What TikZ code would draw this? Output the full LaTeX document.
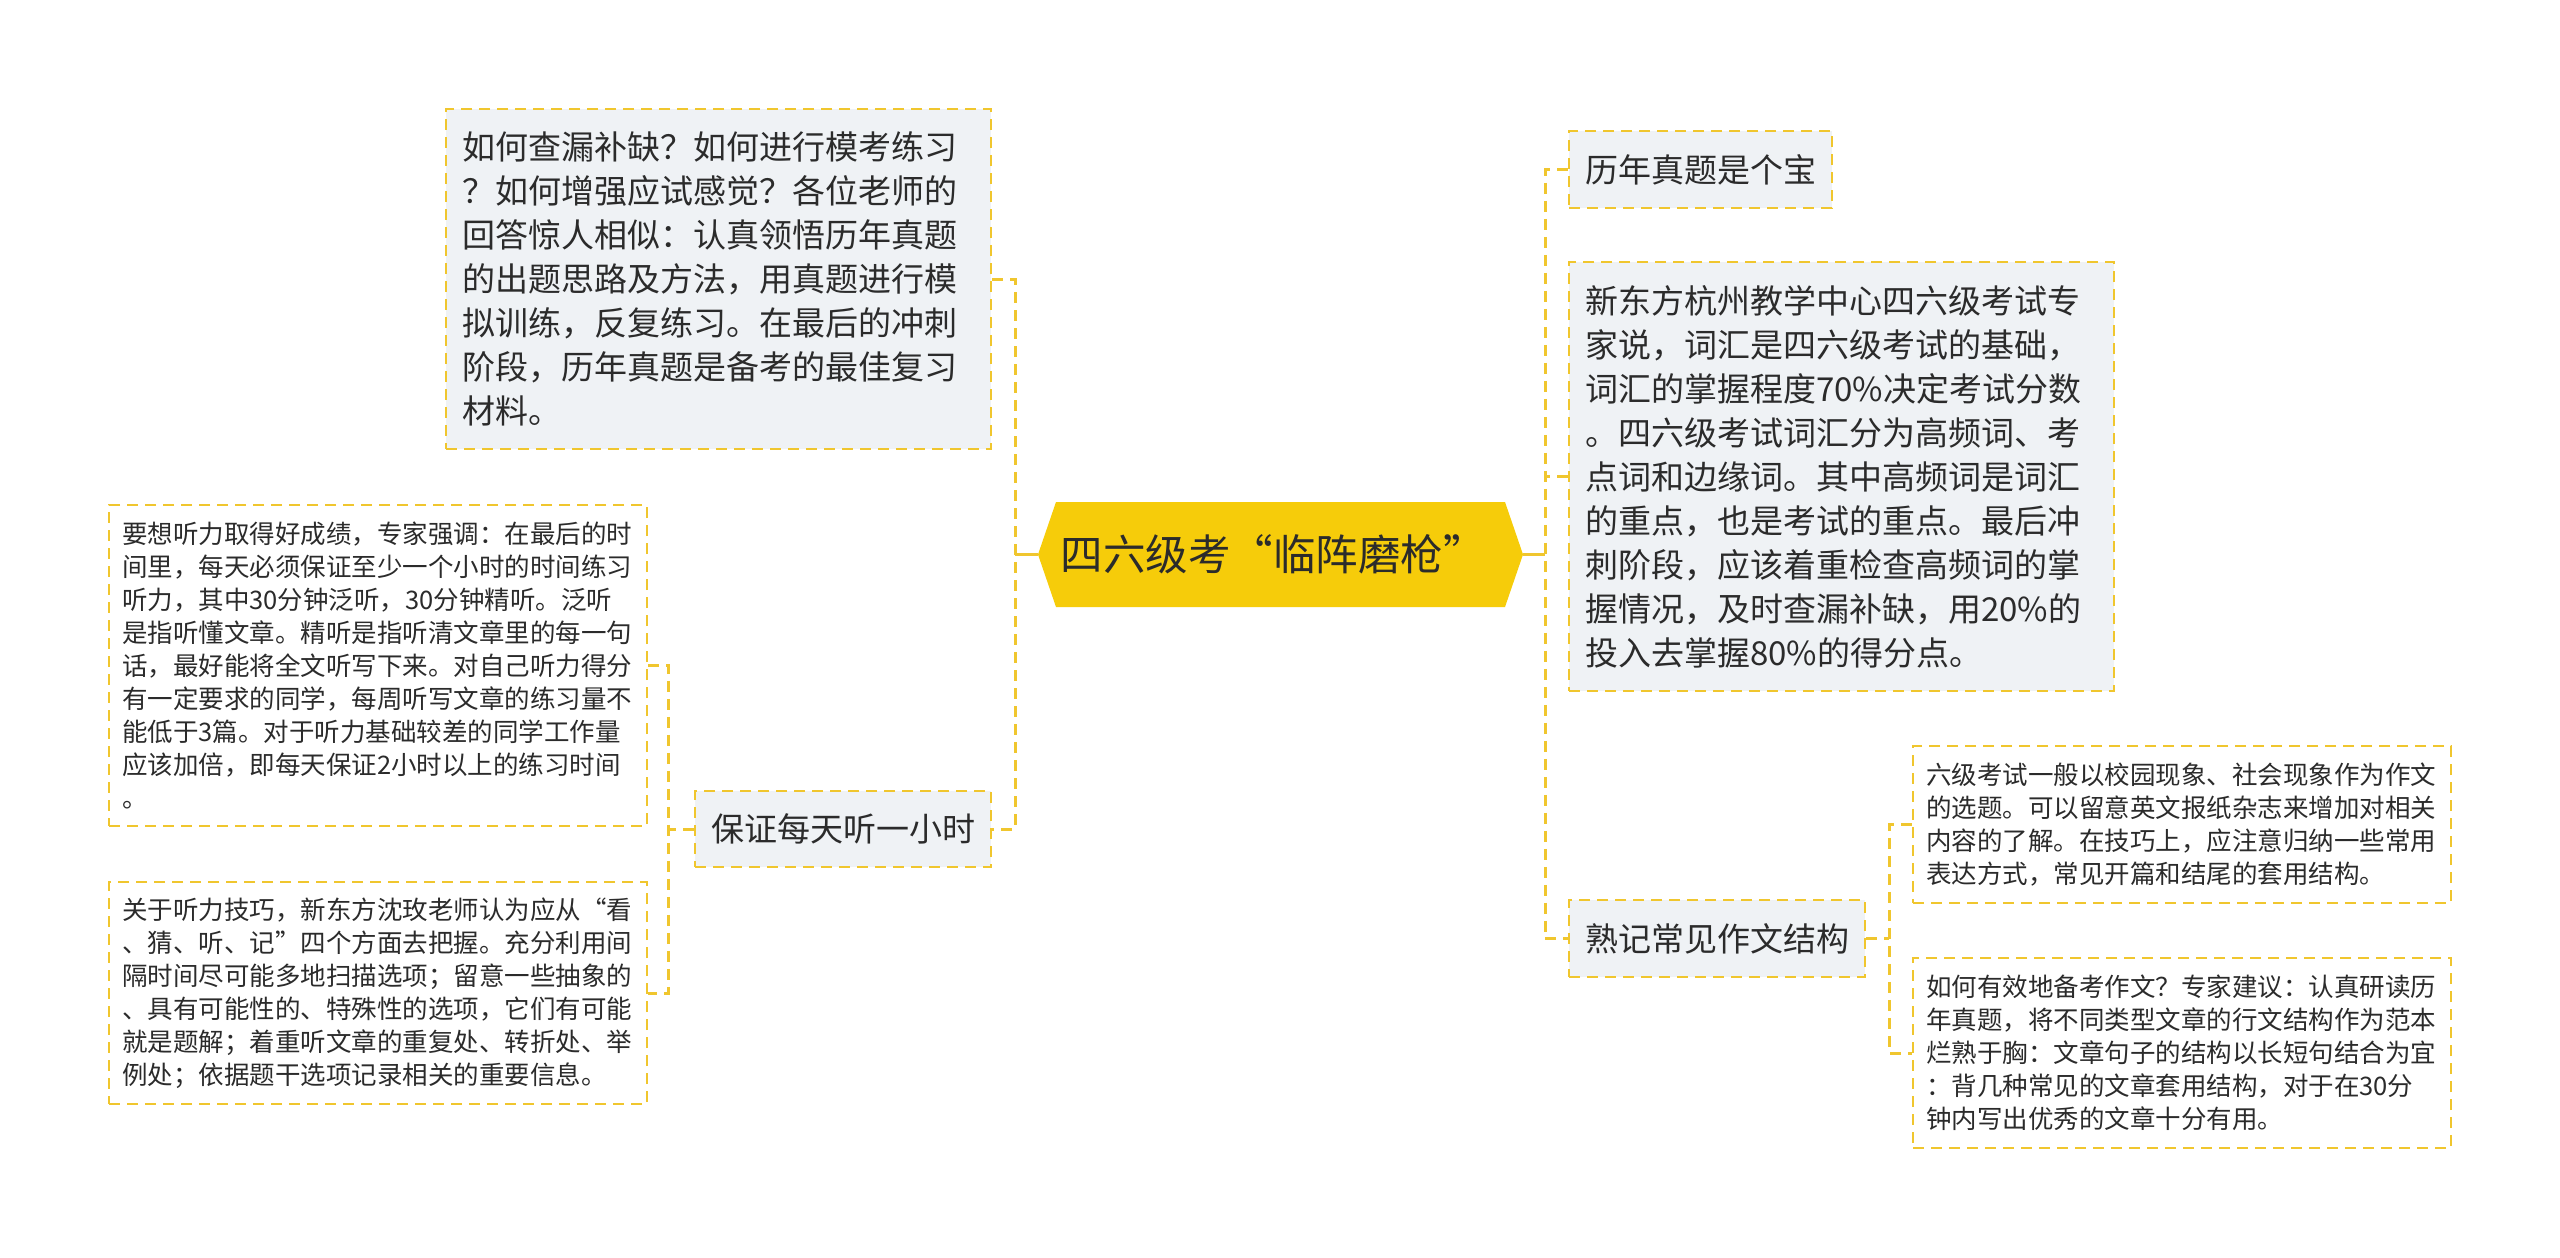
\documentclass[tikz,border=0pt]{standalone}
\usepackage{fontspec}
\setmainfont{Noto Sans CJK SC}
\definecolor{lineY}{HTML}{F0C62E}
\definecolor{hexY}{HTML}{F6CC0A}
\definecolor{boxG}{HTML}{EFF2F5}
\definecolor{txt}{HTML}{2B2B2B}
\tikzset{
  dsh/.style={dash pattern=on 11pt off 7pt},
  box2/.style={draw=lineY, line width=2.5pt, dsh, fill=boxG, text=txt,
    font=\fontsize{33}{44}\selectfont, align=left, inner xsep=16pt, inner ysep=0pt},
  box3/.style={draw=lineY, line width=2.2pt, dsh, fill=white, text=txt,
    font=\fontsize{25.5}{33}\selectfont, align=left, inner xsep=13pt, inner ysep=0pt,
    text width=512pt},
  conn/.style={draw=lineY, line width=3pt, dsh},
  connsolid/.style={draw=lineY, line width=3pt}
}
\begin{document}
\begin{tikzpicture}[x=1pt,y=-1pt]
\useasboundingbox (0,0) rectangle (2560,1258);
\fill[white] (0,0) rectangle (2560,1258);

% central hexagon
\coordinate (cL) at (1038,554.5);
\coordinate (cR) at (1523,554.5);
\fill[hexY] (cL) -- (1056,502) -- (1505,502) -- (cR) -- (1505,607) -- (1056,607) -- cycle;
\node[text=txt, font=\fontsize{42.5}{50}\selectfont, inner sep=0pt] (c) at (1273,554.5) {四六级考“临阵磨枪”};

% left level-2
\node[box2, text width=513pt, minimum height=340pt] (tl) at (718.5,279) {如何查漏补缺？如何进行模考练习\\？如何增强应试感觉？各位老师的\\回答惊人相似：认真领悟历年真题\\的出题思路及方法，用真题进行模\\拟训练，反复练习。在最后的冲刺\\阶段，历年真题是备考的最佳复习\\材料。};
\node[box2, text width=264pt, minimum height=76pt] (bz) at (843,829) {保证每天听一小时};

% left level-3
\node[box3, minimum height=321pt] (yx) at (378,665.5) {要想听力取得好成绩，专家强调：在最后的时\\间里，每天必须保证至少一个小时的时间练习\\听力，其中30分钟泛听，30分钟精听。泛听\\是指听懂文章。精听是指听清文章里的每一句\\话，最好能将全文听写下来。对自己听力得分\\有一定要求的同学，每周听写文章的练习量不\\能低于3篇。对于听力基础较差的同学工作量\\应该加倍，即每天保证2小时以上的练习时间\\。};
\node[box3, minimum height=222pt] (gy) at (378,993) {关于听力技巧，新东方沈玫老师认为应从“看\\、猜、听、记”四个方面去把握。充分利用间\\隔时间尽可能多地扫描选项；留意一些抽象的\\、具有可能性的、特殊性的选项，它们有可能\\就是题解；着重听文章的重复处、转折处、举\\例处；依据题干选项记录相关的重要信息。};

% right level-2
\node[box2, text width=231pt, minimum height=77pt] (ln) at (1700.5,169.5) {历年真题是个宝};
\node[box2, text width=513pt, minimum height=429pt] (xd) at (1841.5,476.5) {新东方杭州教学中心四六级考试专\\家说，词汇是四六级考试的基础，\\词汇的掌握程度70\%决定考试分数\\。四六级考试词汇分为高频词、考\\点词和边缘词。其中高频词是词汇\\的重点，也是考试的重点。最后冲\\刺阶段，应该着重检查高频词的掌\\握情况，及时查漏补缺，用20\%的\\投入去掌握80\%的得分点。};
\node[box2, text width=264pt, minimum height=77pt] (sj) at (1717,938.5) {熟记常见作文结构};

% right level-3
\node[box3, minimum height=157pt] (lj) at (2182,824.5) {六级考试一般以校园现象、社会现象作为作文\\的选题。可以留意英文报纸杂志来增加对相关\\内容的了解。在技巧上，应注意归纳一些常用\\表达方式，常见开篇和结尾的套用结构。};
\node[box3, minimum height=190pt] (rh) at (2182,1053) {如何有效地备考作文？专家建议：认真研读历\\年真题，将不同类型文章的行文结构作为范本\\烂熟于胸：文章句子的结构以长短句结合为宜\\：背几种常见的文章套用结构，对于在30分\\钟内写出优秀的文章十分有用。};

% connectors left
\draw[connsolid] (cL) -- ++(-23,0) coordinate (lv);
\draw[conn] (tl.east) -- (tl.east -| lv) |- (bz.east);
\draw[conn] (bz.west) -- ++(-25,0) coordinate (lsv);
\draw[conn] (yx.east) -- (yx.east -| lsv) |- (gy.east);

% connectors right
\draw[connsolid] (cR) -- ++(22,0) coordinate (rv);
\draw[conn] (ln.west) -- (ln.west -| rv) |- (sj.west);
\draw[conn] (xd.west) -- (xd.west -| rv);
\draw[conn] (sj.east) -- ++(23,0) coordinate (rsv);
\draw[conn] (lj.west) -- (lj.west -| rsv) |- (rh.west);
\end{tikzpicture}
\end{document}
